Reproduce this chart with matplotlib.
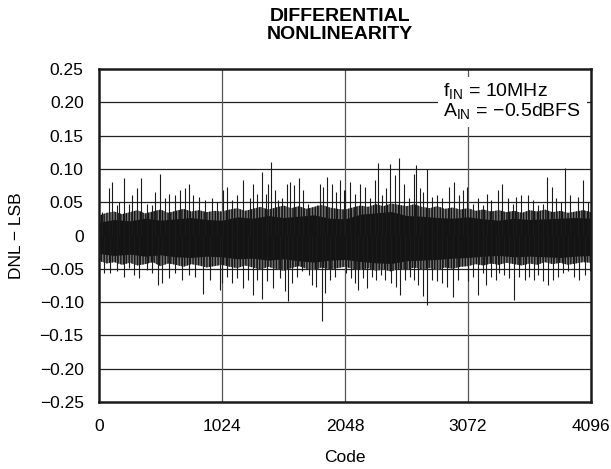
import matplotlib
matplotlib.use("Agg")
import matplotlib.pyplot as plt
from matplotlib.patches import Rectangle

plt.rcParams['font.family'] = ['Liberation Sans', 'DejaVu Sans']
plt.rcParams['hatch.linewidth'] = 1.0
plt.rcParams['hatch.color'] = '#151515'

# ---- data ----
x_ticks = [0, 1024, 2048, 3072, 4096]
x_tick_labels = ["0", "1024", "2048", "3072", "4096"]
y_ticks = [0.25, 0.20, 0.15, 0.10, 0.05, 0, -0.05, -0.10, -0.15, -0.20, -0.25]
y_tick_labels = ["0.25", "0.20", "0.15", "0.10", "0.05", "0", "\u22120.05", "\u22120.10",
                 "\u22120.15", "\u22120.20", "\u22120.25"]

# solid core of the trace (every 128 codes), LSB
core_codes = [0, 128, 256, 384, 512, 640, 768, 896, 1024, 1152, 1280, 1408, 1536, 1664,
              1792, 1920, 2048, 2176, 2304, 2432, 2560, 2688, 2816, 2944, 3072, 3200,
              3328, 3456, 3584, 3712, 3840, 3968, 4096]
core_upper = [0.020, 0.024, 0.022, 0.026, 0.023, 0.025, 0.027, 0.024, 0.023, 0.028, 0.026,
              0.030, 0.027, 0.029, 0.031, 0.026, 0.025, 0.032, 0.034, 0.036, 0.030, 0.029,
              0.027, 0.026, 0.028, 0.025, 0.023, 0.026, 0.024, 0.025, 0.026, 0.027, 0.026]
core_lower = [-0.027, -0.030, -0.028, -0.031, -0.029, -0.032, -0.033, -0.031, -0.032,
              -0.035, -0.034, -0.037, -0.035, -0.038, -0.040, -0.037, -0.036, -0.039,
              -0.041, -0.042, -0.038, -0.037, -0.036, -0.034, -0.033, -0.031, -0.030,
              -0.032, -0.031, -0.032, -0.033, -0.031, -0.030]

# outer edge of the dense hatching (every 64 codes), LSB
band_codes = [0, 64, 128, 192, 256, 320, 384, 448, 512, 576, 640, 704, 768, 832, 896, 960,
              1024, 1088, 1152, 1216, 1280, 1344, 1408, 1472, 1536, 1600, 1664, 1728, 1792,
              1856, 1920, 1984, 2048, 2112, 2176, 2240, 2304, 2368, 2432, 2496, 2560, 2624,
              2688, 2752, 2816, 2880, 2944, 3008, 3072, 3136, 3200, 3264, 3328, 3392, 3456,
              3520, 3584, 3648, 3712, 3776, 3840, 3904, 3968, 4032, 4096]
band_upper = [0.030, 0.034, 0.036, 0.032, 0.035, 0.038, 0.033, 0.036, 0.039, 0.034, 0.037,
              0.040, 0.036, 0.038, 0.035, 0.037,
              0.036, 0.039, 0.041, 0.037, 0.040, 0.043, 0.039, 0.042, 0.045, 0.041, 0.044,
              0.040, 0.043, 0.046, 0.042, 0.040,
              0.039, 0.042, 0.045, 0.043, 0.047, 0.044, 0.048, 0.046, 0.044, 0.047, 0.043,
              0.041, 0.044, 0.040, 0.042, 0.039,
              0.041, 0.037, 0.039, 0.036, 0.038, 0.035, 0.037, 0.034, 0.038, 0.036, 0.039,
              0.035, 0.037, 0.034, 0.036, 0.038,
              0.035]
band_lower = [-0.038, -0.042, -0.040, -0.044, -0.041, -0.045, -0.043, -0.040, -0.046, -0.042,
              -0.044, -0.047, -0.043, -0.045, -0.048, -0.046,
              -0.044, -0.047, -0.049, -0.045, -0.048, -0.051, -0.047, -0.050, -0.053, -0.049,
              -0.046, -0.050, -0.052, -0.048, -0.051, -0.049,
              -0.047, -0.050, -0.052, -0.049, -0.053, -0.051, -0.054, -0.050, -0.052, -0.048,
              -0.051, -0.049, -0.052, -0.048, -0.050, -0.047,
              -0.046, -0.043, -0.045, -0.042, -0.044, -0.041, -0.043, -0.045, -0.042, -0.044,
              -0.040, -0.043, -0.041, -0.044, -0.042, -0.040,
              -0.041]

# upward excursions (code, DNL)
up_codes = [25, 83, 108, 150, 170, 208, 250, 275, 316, 350, 400, 441, 469, 511, 552, 580,
            636, 677, 718, 752, 786, 829, 885, 941, 983,
            1029, 1063, 1104, 1146, 1201, 1257, 1285, 1318, 1354, 1391, 1409, 1432, 1465,
            1493, 1521, 1562, 1590, 1624, 1668, 1702, 1743, 1812, 1840, 1868, 1896, 1937,
            1971, 2010, 2038,
            2045, 2087, 2129, 2170, 2212, 2254, 2295, 2323, 2358, 2390, 2420, 2462, 2495,
            2537, 2582, 2623, 2643, 2676, 2698, 2732, 2773, 2815, 2857, 2913, 2955, 2993,
            3028,
            3061, 3111, 3153, 3194, 3230, 3264, 3319, 3355, 3402, 3444, 3472, 3513, 3569,
            3610, 3652, 3694, 3729, 3770, 3803, 3846, 3881, 3922, 3985, 4026, 4068]
up_vals = [0.036, 0.071, 0.081, 0.046, 0.051, 0.087, 0.048, 0.061, 0.071, 0.087, 0.048,
           0.046, 0.066, 0.092, 0.056, 0.063, 0.061, 0.068, 0.071, 0.078, 0.061, 0.058,
           0.053, 0.056, 0.051,
           0.068, 0.073, 0.053, 0.061, 0.084, 0.056, 0.078, 0.063, 0.095, 0.063, 0.078,
           0.111, 0.068, 0.053, 0.056, 0.078, 0.081, 0.076, 0.086, 0.068, 0.048, 0.046,
           0.078, 0.073, 0.088, 0.078, 0.066, 0.084, 0.068,
           0.068, 0.081, 0.063, 0.078, 0.073, 0.056, 0.083, 0.109, 0.061, 0.071, 0.108,
           0.091, 0.117, 0.078, 0.056, 0.093, 0.106, 0.071, 0.066, 0.100, 0.058, 0.061,
           0.056, 0.073, 0.081, 0.061, 0.068,
           0.073, 0.048, 0.056, 0.046, 0.063, 0.053, 0.068, 0.078, 0.056, 0.048, 0.058,
           0.061, 0.061, 0.053, 0.046, 0.048, 0.088, 0.073, 0.056, 0.051, 0.102, 0.061,
           0.058, 0.084, 0.051]

# downward excursions (code, DNL)
dn_codes = [39, 94, 150, 205, 247, 289, 330, 400, 441, 488, 524, 580, 636, 691, 746, 802,
            866, 927, 1005,
            1021, 1063, 1104, 1146, 1196, 1243, 1285, 1313, 1354, 1396, 1451, 1507, 1548,
            1576, 1610, 1646, 1693, 1749, 1777, 1805, 1854, 1882, 1924, 1965,
            2059, 2101, 2129, 2157, 2198, 2234, 2276, 2309, 2350, 2385, 2434, 2470, 2503,
            2545, 2587, 2620, 2656, 2698, 2734, 2770, 2812, 2854, 2898, 2945, 2989,
            3069, 3111, 3158, 3194, 3222, 3264, 3305, 3333, 3375, 3416, 3452, 3497, 3544,
            3583, 3625, 3653, 3694, 3736, 3777, 3819, 3861, 3902, 3958, 4000, 4042, 4084]
dn_vals = [-0.057, -0.057, -0.054, -0.062, -0.049, -0.060, -0.064, -0.052, -0.057, -0.074,
           -0.072, -0.064, -0.057, -0.067, -0.060, -0.062, -0.088, -0.067, -0.082,
           -0.072, -0.062, -0.072, -0.064, -0.079, -0.067, -0.090, -0.067, -0.096, -0.069,
           -0.079, -0.064, -0.084, -0.099, -0.072, -0.062, -0.054, -0.059, -0.074, -0.077,
           -0.129, -0.087, -0.067, -0.062,
           -0.057, -0.064, -0.072, -0.082, -0.064, -0.079, -0.062, -0.067, -0.059, -0.067,
           -0.072, -0.077, -0.089, -0.067, -0.062, -0.067, -0.074, -0.091, -0.105, -0.067,
           -0.069, -0.072, -0.077, -0.092, -0.067,
           -0.069, -0.062, -0.090, -0.057, -0.074, -0.062, -0.067, -0.057, -0.059, -0.064,
           -0.097, -0.062, -0.067, -0.062, -0.067, -0.059, -0.069, -0.074, -0.067, -0.062,
           -0.057, -0.054, -0.062, -0.067, -0.059, -0.054]

title = "DIFFERENTIAL\nNONLINEARITY"
note_1 = "f$_{\\mathregular{IN}}$ = 10MHz"
note_2 = "A$_{\\mathregular{IN}}$ = \u22120.5dBFS"
x_label = "Code"
y_label = "DNL \u2212 LSB"

n_up = min(len(up_codes), len(up_vals))
n_dn = min(len(dn_codes), len(dn_vals))

W, H = 611, 469
def fx(px):
    return px / W
def fy(py):
    return 1 - py / H

# ---- figure ----
fig = plt.figure(figsize=(W / 100, H / 100), dpi=100)
ax = fig.add_axes([fx(99), fy(402), fx(591) - fx(99), fy(69) - fy(402)])

ax.set_xlim(0, 4096)
ax.set_ylim(-0.25, 0.25)
ax.set_xticks(x_ticks)
ax.set_xticklabels(x_tick_labels)
ax.set_yticks(y_ticks)
ax.set_yticklabels(y_tick_labels)
ax.tick_params(length=0, labelsize=12.5)
ax.tick_params(axis='y', pad=11)
ax.tick_params(axis='x', pad=12)

for y in y_ticks[1:-1]:
    ax.axhline(y, color='#222222', lw=0.9, zorder=1)
for x in x_ticks[1:-1]:
    ax.axvline(x, color='#555555', lw=0.9, zorder=1)

ax.fill_between(band_codes, band_lower, band_upper, facecolor='#7a7a7a',
                hatch='||||||', lw=0, zorder=2)
ax.fill_between(core_codes, core_lower, core_upper, color='#141414', lw=0, zorder=2)
ax.vlines(up_codes[:n_up], 0, up_vals[:n_up], color='#1a1a1a', lw=0.8, zorder=3)
ax.vlines(dn_codes[:n_dn], 0, dn_vals[:n_dn], color='#1a1a1a', lw=0.8, zorder=3)

for s in ax.spines.values():
    s.set_linewidth(1.8)
    s.set_color('#1a1a1a')
    s.set_zorder(5)

fig.text(fx(345), fy(457), x_label, ha='center', va='center', fontsize=12.5)
fig.text(fx(17), fy(235.5), y_label, ha='center', va='center', rotation=90, fontsize=12.5)

fig.text(fx(340), fy(25.5), title, ha='center', va='center', fontsize=14,
         fontweight='bold', linespacing=1.05)

# white box behind the test-condition note
fig.patches.append(Rectangle((fx(438), fy(127)), fx(587) - fx(438), fy(77) - fy(127),
                             transform=fig.transFigure, fc='white', ec='none', zorder=4))
fig.text(fx(443), fy(97), note_1, ha='left', va='baseline', fontsize=14, zorder=6)
fig.text(fx(443), fy(117), note_2, ha='left', va='baseline', fontsize=14, zorder=6)

fig.savefig("out.png", dpi=100)
